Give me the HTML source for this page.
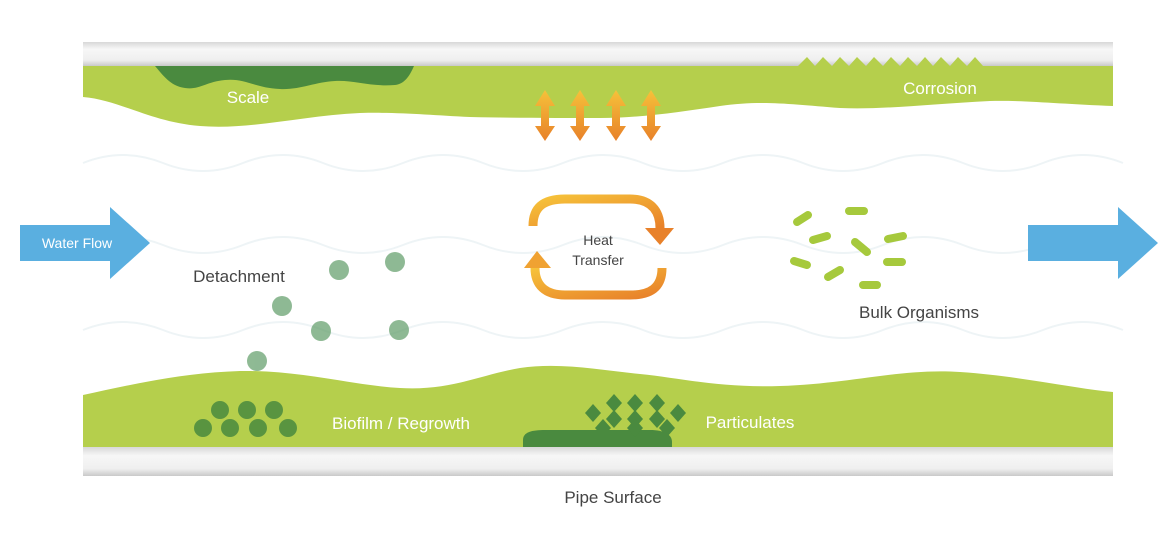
<!DOCTYPE html>
<html><head><meta charset="utf-8"><style>
html,body{margin:0;padding:0;background:#fff;}
svg{display:block;font-family:"Liberation Sans",sans-serif;}
</style></head><body>
<svg width="1174" height="539" viewBox="0 0 1174 539">
<defs>
<linearGradient id="pipe" x1="0" y1="0" x2="0" y2="1">
<stop offset="0" stop-color="#d8d8d8"/><stop offset="0.3" stop-color="#f7f7f7"/><stop offset="0.75" stop-color="#efefef"/><stop offset="1" stop-color="#c9c9c9"/></linearGradient>
<linearGradient id="org" x1="0" y1="0" x2="0" y2="1">
<stop offset="0" stop-color="#f6c23a"/><stop offset="1" stop-color="#e8812a"/></linearGradient>
<linearGradient id="org2" x1="0" y1="0" x2="1" y2="1">
<stop offset="0" stop-color="#f6c23a"/><stop offset="1" stop-color="#e8812a"/></linearGradient>
</defs>
<rect x="83" y="42" width="1030" height="24" fill="url(#pipe)"/>
<path d="M83 66 H1113 V106 C1060 104 1020 100 990 101 C930 104 880 110 840 108 C790 104 760 100 720 106 C680 112 640 118 600 118 C560 118 520 118 470 117 C430 115 400 112 360 113 C300 116 250 130 200 126 C150 122 120 100 83 97 Z" fill="#b5cf4c"/>
<path d="M155 66 H414 C410 75 405 84 395 85 C370 87 355 80 335 81 C315 82 300 90 280 89 C255 88 245 78 225 80 C205 82 200 90 185 88 C170 86 163 75 155 66 Z" fill="#4a8a3f"/>
<path d="M798 66 L807 57 L815 66 L823 57 L832 66 L840 57 L849 66 L857 57 L866 66 L874 57 L883 66 L891 57 L900 66 L908 57 L917 66 L925 57 L933 66 L941 57 L950 66 L958 57 L967 66 L975 57 L983 66 Z" fill="#b5cf4c"/>
<text x="248" y="103" fill="#fff" font-size="17" text-anchor="middle">Scale</text>
<text x="940" y="94" fill="#fff" font-size="17" text-anchor="middle">Corrosion</text>
<g fill="url(#org)">
<path d="M535 106 L545 90 L555 106 H549 V126 H555 L545 141 L535 126 H541 V106 Z"/>
<path d="M570 106 L580 90 L590 106 H584 V126 H590 L580 141 L570 126 H576 V106 Z"/>
<path d="M606 106 L616 90 L626 106 H620 V126 H626 L616 141 L606 126 H612 V106 Z"/>
<path d="M641 106 L651 90 L661 106 H655 V126 H661 L651 141 L641 126 H647 V106 Z"/>
</g>
<g fill="none" stroke="#eef4f6" stroke-width="2">
<path d="M83 163 q40 -16 80 0 t80 0 t80 0 t80 0 t80 0 t80 0 t80 0 t80 0 t80 0 t80 0 t80 0 t80 0 t80 0"/>
<path d="M83 245 q40 -16 80 0 t80 0 t80 0 t80 0 t80 0 t80 0 t80 0 t80 0 t80 0 t80 0 t80 0 t80 0 t80 0"/>
<path d="M83 330 q40 -16 80 0 t80 0 t80 0 t80 0 t80 0 t80 0 t80 0 t80 0 t80 0 t80 0 t80 0 t80 0 t80 0"/>
</g>
<path d="M20 225 H110 V207 L150 243 L110 279 V261 H20 Z" fill="#5aafe0"/>
<text x="77" y="248" fill="#fff" font-size="14" text-anchor="middle">Water Flow</text>
<path d="M1028 225 H1118 V207 L1158 243 L1118 279 V261 H1028 Z" fill="#5aafe0"/>
<path d="M533 226 C533 206 545 199 565 199 H630 C650 199 660 210 660 228" fill="none" stroke="url(#org2)" stroke-width="9"/>
<path d="M645 228 H674 L660 245 Z" fill="#e8812a"/>
<path d="M662 268 C662 288 650 295 630 295 H565 C545 295 535 285 535 268" fill="none" stroke="url(#org2)" stroke-width="9"/>
<path d="M524 268 H551 L537 251 Z" fill="#f0a232"/>
<text x="598" y="245" fill="#444" font-size="14" text-anchor="middle">Heat</text>
<text x="598" y="265" fill="#444" font-size="14" text-anchor="middle">Transfer</text>
<text x="239" y="282" fill="#444" font-size="17" text-anchor="middle">Detachment</text>
<g fill="#5f9c67" opacity="0.7">
<circle cx="339" cy="270" r="10"/><circle cx="395" cy="262" r="10"/><circle cx="282" cy="306" r="10"/>
<circle cx="321" cy="331" r="10"/><circle cx="399" cy="330" r="10"/><circle cx="257" cy="361" r="10"/>
</g>
<g stroke="#a6c93c" stroke-width="8" stroke-linecap="round">
<line x1="797" y1="222" x2="808" y2="215"/><line x1="849" y1="211" x2="864" y2="211"/>
<line x1="813" y1="240" x2="827" y2="236"/><line x1="855" y1="242" x2="867" y2="252"/>
<line x1="888" y1="239" x2="903" y2="236"/><line x1="794" y1="261" x2="807" y2="265"/>
<line x1="828" y1="277" x2="840" y2="270"/><line x1="887" y1="262" x2="902" y2="262"/>
<line x1="863" y1="285" x2="877" y2="285"/>
</g>
<text x="919" y="318" fill="#444" font-size="17" text-anchor="middle">Bulk Organisms</text>
<path d="M83 395 C130 385 180 373 240 371 C300 370 350 385 400 388 C450 391 480 375 520 368 C560 362 600 370 640 374 C680 378 720 388 780 386 C850 384 900 368 960 372 C1020 376 1070 388 1113 392 V447 H83 Z" fill="#b5cf4c"/>
<path d="M523 447 V440 C523 432 532 430 545 430 H650 C665 430 672 435 672 442 V447 Z" fill="#4a8a3f"/>
<g fill="#4a8a3f" opacity="0.85">
<circle cx="220" cy="410" r="9"/><circle cx="247" cy="410" r="9"/><circle cx="274" cy="410" r="9"/>
<circle cx="203" cy="428" r="9"/><circle cx="230" cy="428" r="9"/><circle cx="258" cy="428" r="9"/><circle cx="288" cy="428" r="9"/>
</g>
<g fill="#4a8a3f">
<path d="M606 403 l8 -9 l8 9 l-8 9z"/><path d="M627 403 l8 -9 l8 9 l-8 9z"/><path d="M649 403 l8 -9 l8 9 l-8 9z"/>
<path d="M585 413 l8 -9 l8 9 l-8 9z"/><path d="M606 419 l8 -9 l8 9 l-8 9z"/><path d="M627 419 l8 -9 l8 9 l-8 9z"/><path d="M649 419 l8 -9 l8 9 l-8 9z"/><path d="M670 413 l8 -9 l8 9 l-8 9z"/>
<path d="M595 428 l8 -9 l8 9 l-8 9z"/><path d="M627 428 l8 -9 l8 9 l-8 9z"/><path d="M659 428 l8 -9 l8 9 l-8 9z"/>
</g>
<text x="401" y="429" fill="#fff" font-size="17" text-anchor="middle">Biofilm / Regrowth</text>
<text x="750" y="428" fill="#fff" font-size="17" text-anchor="middle">Particulates</text>
<rect x="83" y="447" width="1030" height="29" fill="url(#pipe)"/>
<text x="613" y="503" fill="#444" font-size="17" text-anchor="middle">Pipe Surface</text>
</svg>
</body></html>
